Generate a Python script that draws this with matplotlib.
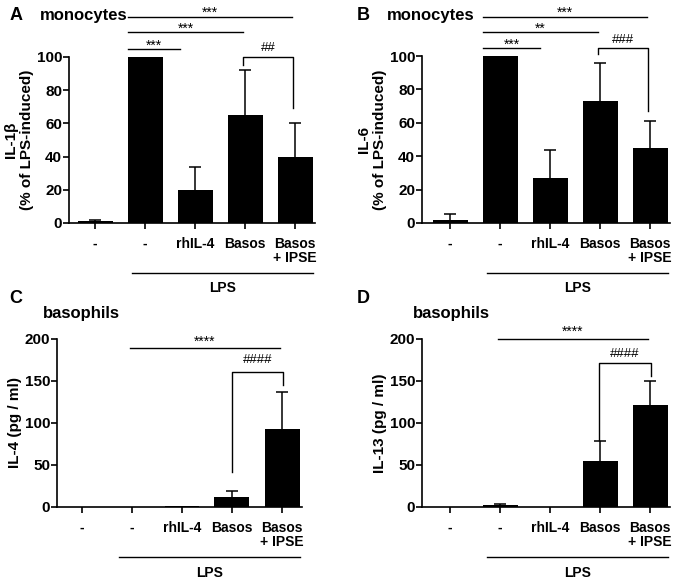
import matplotlib.pyplot as plt
import matplotlib.transforms as mtransforms
import numpy as np

plt.rcParams['font.family'] = ['Liberation Sans', 'DejaVu Sans']
plt.rcParams['font.weight'] = 'bold'

groups = ['-', '-', 'rhIL-4', 'Basos', 'Basos\n+ IPSE']

il1b_mean = [1.0, 100.0, 20.0, 65.0, 40.0]
il1b_err = [1.0, 0.0, 14.0, 27.0, 20.0]

il6_mean = [2.0, 100.0, 27.0, 73.0, 45.0]
il6_err = [3.5, 0.0, 17.0, 23.0, 16.0]

il4_mean = [0.0, 0.5, 1.0, 12.0, 93.0]
il4_err = [0.0, 0.0, 0.0, 7.0, 44.0]

il13_mean = [0.5, 2.0, 0.5, 55.0, 122.0]
il13_err = [0.0, 1.5, 0.0, 24.0, 28.0]


def draw_panel(ax, means, errs, ymax, ystep, ylabel, xlim):
    x = np.arange(len(means))
    means = np.asarray(means)
    errs = np.asarray(errs)
    ax.bar(x, means, width=0.7, color='black', zorder=2)
    # upward-only SEM bars, GraphPad style
    has = errs > 0
    ax.vlines(x[has], means[has], means[has] + errs[has], color='black', lw=1.1)
    ax.hlines(means[has] + errs[has], x[has] - 0.12, x[has] + 0.12,
              color='black', lw=1.1)
    ax.set_xlim(*xlim)
    ax.set_ylim(0, ymax)
    ax.set_yticks(np.arange(0, ymax + 1, ystep))
    ax.set_xticks(x)
    ax.set_xticklabels(groups, fontsize=10, fontweight='bold', linespacing=1.0)
    ax.set_ylabel(ylabel, fontsize=11, fontweight='bold', linespacing=1.2,
                  labelpad=2)
    for s in ['top', 'right']:
        ax.spines[s].set_visible(False)
    for s in ['left', 'bottom']:
        ax.spines[s].set_linewidth(1.2)
    ax.tick_params(axis='both', width=1.2, length=4)
    ax.tick_params(axis='x', pad=6)
    ax.tick_params(axis='y', pad=1)
    for lab in ax.get_yticklabels():
        lab.set_fontweight('bold')
        lab.set_fontsize(11)
    # LPS underline
    tr = mtransforms.blended_transform_factory(ax.transData, ax.transAxes)
    ax.plot([0.74, 4.36], [-0.30, -0.30], color='black', lw=1.0,
            transform=tr, clip_on=False)
    ax.text(2.55, -0.39, 'LPS', transform=tr, ha='center', va='center',
            fontsize=10, fontweight='bold')


def hline(ax, x0, x1, y, label, off):
    ax.plot([x0, x1], [y, y], color='black', lw=1.0, clip_on=False)
    ax.annotate(label, xy=((x0 + x1) / 2, y), xytext=(0, off),
                textcoords='offset points', ha='center', va='baseline',
                fontsize=10, fontweight='normal', annotation_clip=False)


def bracket(ax, x0, x1, ytop, yl, yr, label, off):
    ax.plot([x0, x0, x1, x1], [yl, ytop, ytop, yr], color='black', lw=1.0,
            clip_on=False)
    ax.annotate(label, xy=((x0 + x1) / 2, ytop), xytext=(0, off),
                textcoords='offset points', ha='center', va='baseline',
                fontsize=9.5, fontweight='normal', annotation_clip=False)


fig = plt.figure(figsize=(6.78, 5.8), dpi=100)

axA = fig.add_axes([69 / 678, 357 / 580, 246 / 678, 166 / 580])
axB = fig.add_axes([422 / 678, 357 / 580, 248 / 678, 167 / 580])
axC = fig.add_axes([57 / 678, 73 / 580, 245 / 678, 168 / 580])
axD = fig.add_axes([422 / 678, 73 / 580, 248 / 678, 168 / 580])

draw_panel(axA, il1b_mean, il1b_err, 100, 20,
           'IL-1β\n(% of LPS-induced)', (-0.52, 4.4))
draw_panel(axB, il6_mean, il6_err, 100, 20,
           'IL-6\n(% of LPS-induced)', (-0.56, 4.4))
draw_panel(axC, il4_mean, il4_err, 200, 50,
           'IL-4 (pg / ml)', (-0.5, 4.4))
draw_panel(axD, il13_mean, il13_err, 200, 50,
           'IL-13 (pg / ml)', (-0.56, 4.4))

# panel A significance
hline(axA, 0.66, 1.7, 105, '***', -0.5)
hline(axA, 0.66, 2.96, 115, '***', -0.5)
hline(axA, 0.66, 3.94, 124, '***', 0)
bracket(axA, 2.96, 3.96, 100, 95, 69, '##', 4)

# panel B significance
hline(axB, 0.66, 1.8, 105, '***', -1)
hline(axB, 0.66, 2.96, 114.5, '**', -1)
hline(axB, 0.66, 3.94, 123.5, '***', 0)
bracket(axB, 2.96, 3.96, 105, 101, 67, '###', 3.5)

# panel C significance
hline(axC, 0.96, 3.96, 189, '****', 1.5)
bracket(axC, 3.0, 4.02, 161, 42, 145, '####', 6)

# panel D significance
hline(axD, 0.96, 3.96, 200, '****', 2)
bracket(axD, 2.98, 4.02, 171, 80, 156, '####', 4.5)

# panel letters and titles
fig.text(0.014, 0.973, 'A', fontsize=13, fontweight='bold', va='center')
fig.text(0.059, 0.973, 'monocytes', fontsize=12, fontweight='bold', va='center')
fig.text(0.526, 0.973, 'B', fontsize=13, fontweight='bold', va='center')
fig.text(0.571, 0.973, 'monocytes', fontsize=12, fontweight='bold', va='center')
fig.text(0.014, 0.486, 'C', fontsize=13, fontweight='bold', va='center')
fig.text(0.063, 0.46, 'basophils', fontsize=12, fontweight='bold', va='center')
fig.text(0.526, 0.486, 'D', fontsize=13, fontweight='bold', va='center')
fig.text(0.609, 0.46, 'basophils', fontsize=12, fontweight='bold', va='center')

fig.savefig('out.png', dpi=100)
